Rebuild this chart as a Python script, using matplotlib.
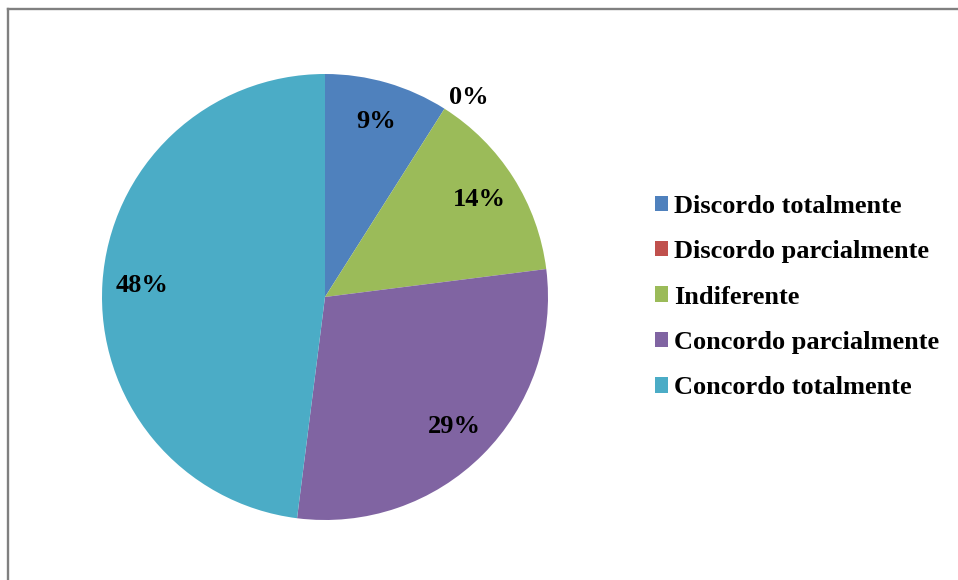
import matplotlib.pyplot as plt
import numpy as np
from matplotlib.lines import Line2D
from matplotlib.patches import Patch

categories = ['Discordo totalmente', 'Discordo parcialmente', 'Indiferente',
              'Concordo parcialmente', 'Concordo totalmente']
percent = [9, 0, 14, 29, 48]
colors = ['#4F81BD', '#C0504D', '#9BBB59', '#8064A2', '#4BACC6']

plt.rcParams['font.family'] = ['Liberation Serif', 'DejaVu Serif']

W, H = 958, 580
fig = plt.figure(figsize=(W / 100, H / 100), dpi=100)

cx, cy, r = 325, 297, 223
ax = fig.add_axes([(cx - r) / W, 1 - (cy + r) / H, 2 * r / W, 2 * r / H])
wedges, texts, autotexts = ax.pie(
    percent, colors=colors, startangle=90, counterclock=False,
    autopct='%.0f%%', pctdistance=0.82,
    textprops=dict(fontsize=19, fontweight='bold', color='black'),
    wedgeprops=dict(linewidth=0))
ax.set_xlim(-1, 1)
ax.set_ylim(-1, 1)
ax.set_aspect('equal')

# empty slices get their label pushed outside the pie
for w, t, p in zip(wedges, autotexts, percent):
    if p == 0:
        ang = np.deg2rad((w.theta1 + w.theta2) / 2 - 3)
        t.set_position((1.11 * np.cos(ang), 1.10 * np.sin(ang)))

handles = [Patch(facecolor=c, edgecolor='none') for c in colors]
fig.legend(handles, categories, loc='center left',
           bbox_to_anchor=(644 / W, 1 - 297 / H), frameon=False,
           prop=dict(size=19, weight='bold'),
           handlelength=0.52, handleheight=0.52, handletextpad=0.22,
           labelspacing=0.85, borderaxespad=0)

# chart frame (top and left edges)
fig.add_artist(Line2D([8 / W, 1], [1 - 9 / H, 1 - 9 / H], color='#808080', lw=1.7))
fig.add_artist(Line2D([8 / W, 8 / W], [0, 1 - 9 / H], color='#808080', lw=1.7))

fig.savefig('out.png', dpi=100)
